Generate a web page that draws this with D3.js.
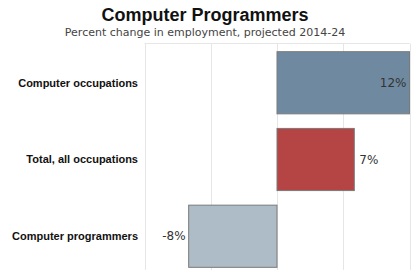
<!DOCTYPE html>
<html>
<head>
<meta charset="utf-8">
<script src="https://cdn.jsdelivr.net/npm/d3@7"></script>
<style>
  body { margin: 0; background: #fff; }
  svg { display: block; }
</style>
</head>
<body>
<svg width="414" height="270"></svg>
<script>
// Data
const categories = ['Computer occupations', 'Total, all occupations', 'Computer programmers'];
const values = [12, 7, -8];
const colors = ['#6f8aa0', '#b54445', '#adbcc7'];
const gridTicks = [-12, -6, 0, 6, 12];

const svg = d3.select('svg');

const x = d3.scaleLinear().domain([-12, 12]).range([144.5, 409.5]);
const y = d3.scaleBand().domain(categories).range([44, 275]).paddingInner(0.19).paddingOuter(0.1);

// Title
svg.append('text')
  .attr('x', 205).attr('y', 21)
  .attr('text-anchor', 'middle')
  .style('font', 'bold 18px "Liberation Sans", Arial, sans-serif')
  .attr('fill', '#111')
  .text('Computer Programmers');

svg.append('text')
  .attr('x', 205).attr('y', 36)
  .attr('text-anchor', 'middle')
  .style('font', '11px "DejaVu Sans", sans-serif')
  .attr('fill', '#444')
  .text('Percent change in employment, projected 2014-24');

// Grid
svg.append('g')
  .selectAll('line')
  .data(gridTicks)
  .join('line')
  .attr('x1', d => Math.round(x(d)) + 0.5)
  .attr('x2', d => Math.round(x(d)) + 0.5)
  .attr('y1', 43.5)
  .attr('y2', 270)
  .attr('stroke', '#e6e6e6');

svg.append('line')
  .attr('x1', x(-12)).attr('x2', x(12))
  .attr('y1', 43.5).attr('y2', 43.5)
  .attr('stroke', '#e6e6e6');

// Bars
svg.append('g')
  .selectAll('rect')
  .data(values)
  .join('rect')
  .attr('x', d => x(Math.min(0, d)))
  .attr('y', (d, i) => y(categories[i]))
  .attr('width', d => Math.abs(x(d) - x(0)))
  .attr('height', y.bandwidth())
  .attr('fill', (d, i) => colors[i])
  .attr('stroke', '#7a7a7a')
  .attr('stroke-width', 1);

// Category labels
svg.append('g')
  .selectAll('text')
  .data(categories)
  .join('text')
  .attr('x', 138)
  .attr('y', d => y(d) + y.bandwidth() / 2)
  .attr('dy', '0.35em')
  .attr('text-anchor', 'end')
  .style('font', 'bold 11px "Liberation Sans", Arial, sans-serif')
  .attr('fill', '#111')
  .text(d => d);

// Value labels
svg.append('g')
  .selectAll('text')
  .data(values)
  .join('text')
  .attr('x', (d, i) => i === 0 ? x(d) - 3 : (d > 0 ? x(d) + 5 : x(d) - 3))
  .attr('y', (d, i) => y(categories[i]) + y.bandwidth() / 2)
  .attr('dy', '0.35em')
  .attr('text-anchor', (d, i) => i === 0 || d < 0 ? 'end' : 'start')
  .style('font', '12px "DejaVu Sans", sans-serif')
  .attr('fill', '#333')
  .text(d => d + '%');
</script>
</body>
</html>
